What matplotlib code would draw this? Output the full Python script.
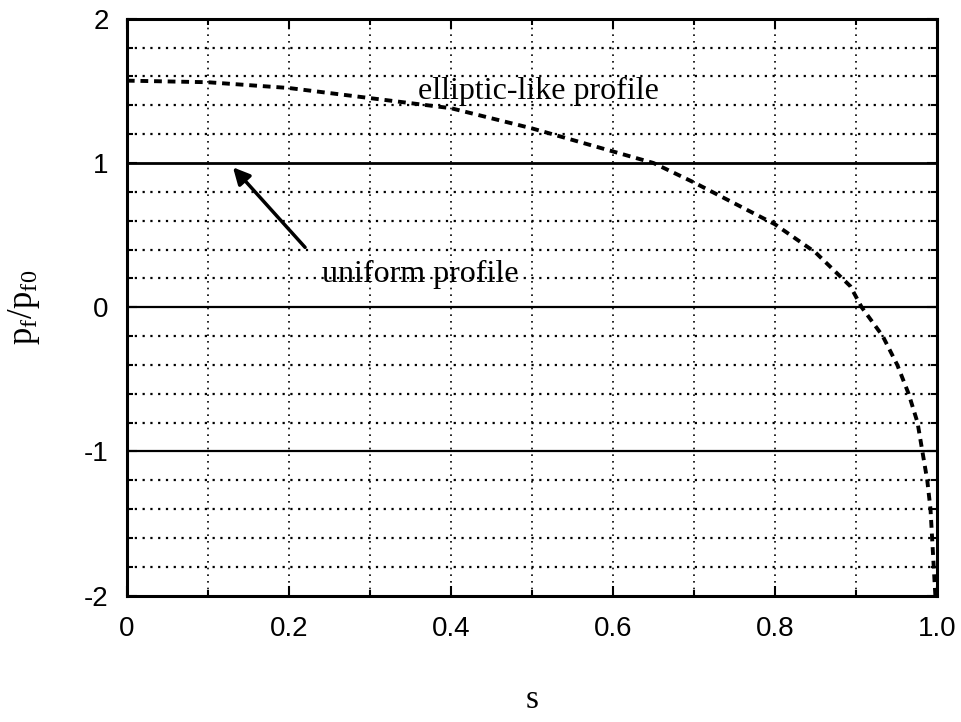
import matplotlib
matplotlib.use("Agg")
import matplotlib.pyplot as plt
import numpy as np
from matplotlib.ticker import MultipleLocator

plt.rcParams['font.family'] = ['Liberation Serif', 'DejaVu Serif']
plt.rcParams['mathtext.fontset'] = 'custom'
plt.rcParams['mathtext.rm'] = 'Liberation Serif'
plt.rcParams['mathtext.it'] = 'Liberation Serif'

# elliptic-like profile
s_vals = [0.0, 0.1, 0.2, 0.3, 0.4, 0.5, 0.6, 0.65, 0.7, 0.8, 0.85, 0.893, 0.907,
          0.933, 0.951, 0.965, 0.976, 0.982, 0.988, 0.992, 0.994, 0.996, 0.998]
p_vals = [1.571, 1.56, 1.52, 1.45, 1.38, 1.24, 1.08, 1.0, 0.865, 0.575, 0.38, 0.146, 0.0,
          -0.2, -0.4, -0.6, -0.8, -1.0, -1.2, -1.4, -1.6, -1.8, -2.0]
uniform_level = 1.0

x_ticks = [0, 0.2, 0.4, 0.6, 0.8, 1.0]
x_ticklabels = ['0', '0.2', '0.4', '0.6', '0.8', '1.0']
y_ticks = [-2, -1, 0, 1, 2]
y_ticklabels = ['-2', '-1', '0', '1', '2']

fig = plt.figure(figsize=(9.61, 7.22), dpi=100)
ax = fig.add_axes([0.132, 0.175, 0.843, 0.799])
ax.set_xlim(0, 1.0)
ax.set_ylim(-2, 2)

# grid
for x in np.arange(0.1, 1.0, 0.1):
    ax.axvline(x, color='black', lw=1.2, ls=(0, (1, 3)), zorder=1)
for y in np.arange(-1.8, 2.0, 0.2):
    if abs(y - round(y)) < 1e-6:
        continue
    ax.axhline(y, color='black', lw=1.6, ls=(0, (1, 2.5)), zorder=1)
for y in [-1, 0]:
    ax.axhline(y, color='black', lw=1.6, zorder=1)

# uniform profile
ax.axhline(uniform_level, color='black', lw=2.0, zorder=2)

# elliptic-like profile
ax.plot(s_vals, p_vals, color='black', lw=2.8, ls=(0, (2.0, 1.5)), zorder=3)

ax.text(0.508, 1.445, 'elliptic-like profile', fontsize=23, ha='center', va='baseline',
        zorder=4)
ax.text(0.362, 0.173, 'uniform profile', fontsize=23, ha='center', va='baseline', zorder=4)
ax.annotate('', xy=(0.131, 0.97), xytext=(0.22, 0.415),
            arrowprops=dict(arrowstyle='-|>', color='black', lw=2.5,
                            mutation_scale=25, shrinkA=0, shrinkB=0))

ax.set_xticks(x_ticks)
ax.set_xticklabels(x_ticklabels)
ax.set_yticks(y_ticks)
ax.set_yticklabels(y_ticklabels)
ax.xaxis.set_minor_locator(MultipleLocator(0.1))
ax.yaxis.set_minor_locator(MultipleLocator(0.2))
ax.tick_params(which='both', direction='in', top=True, right=True, width=1.5)
ax.tick_params(axis='x', pad=15)
ax.tick_params(axis='y', pad=13)
ax.tick_params(which='major', length=7)
ax.tick_params(which='minor', length=4)
for lab in ax.get_xticklabels() + ax.get_yticklabels():
    lab.set_family(['Liberation Sans', 'DejaVu Sans'])
    lab.set_fontsize(20)
for sp in ax.spines.values():
    sp.set_linewidth(2.2)

ax.set_xlabel('s', fontsize=24, labelpad=30)
ax.set_ylabel(r'$\mathregular{p_f/p_{f0}}$', fontsize=25, labelpad=30)

fig.savefig('out.png', dpi=100)
